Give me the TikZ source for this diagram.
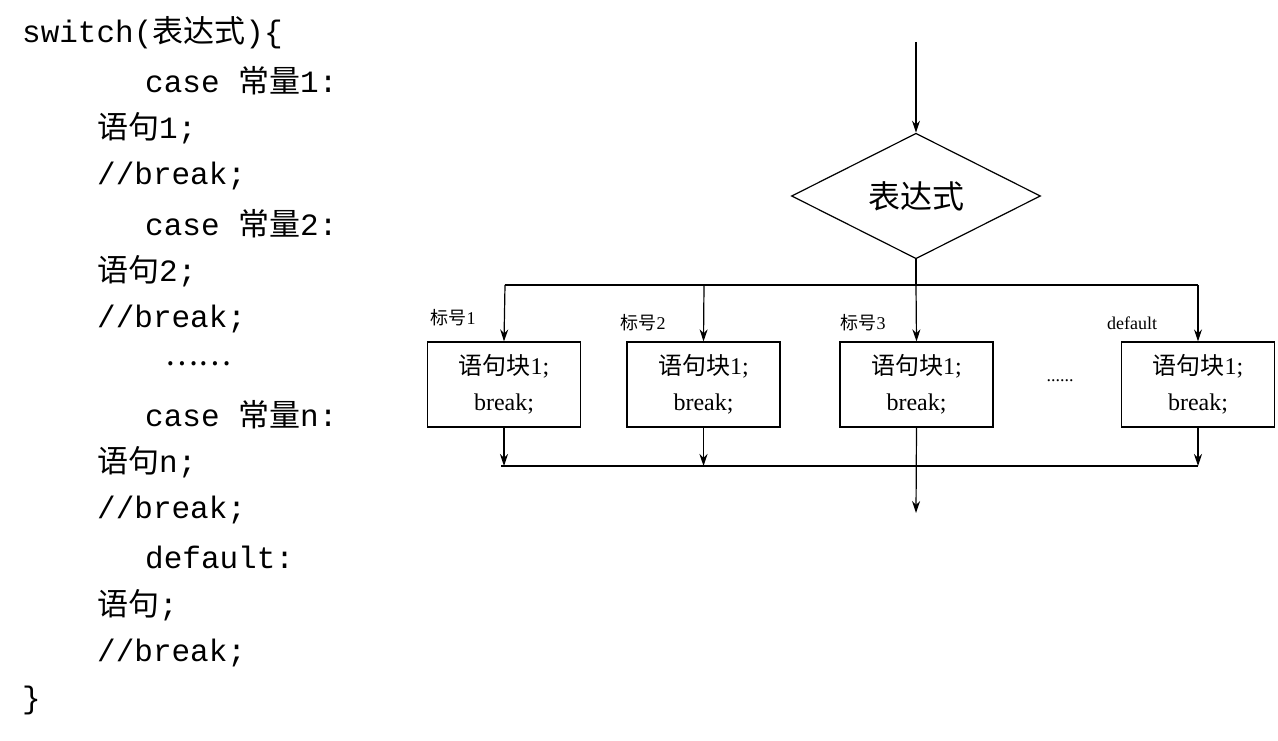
\documentclass[tikz,border=0pt]{standalone}
\usepackage{fontspec}
\setmainfont{Liberation Serif}
\setmonofont{Liberation Mono}
\newfontfamily\cjk{Noto Sans CJK SC}
\usetikzlibrary{shapes.geometric,arrows.meta}
\begin{document}
\begin{tikzpicture}[x=1pt,y=-1pt,
  code/.style={anchor=west,inner sep=0pt,font=\ttfamily\fontsize{31}{31}\selectfont},
  blk/.style={draw,line width=1.2pt,minimum width=153pt,minimum height=85pt,align=center,font=\fontsize{24}{36}\selectfont},
  lbl/.style={inner sep=0pt,font=\fontsize{18}{18}\selectfont},
  ln/.style={line width=1.2pt},
  arr/.style={line width=1.2pt,-{Stealth[length=12pt,width=8pt]}}]
\useasboundingbox (0,0) rectangle (1278,741);
\node[code] (l1) at (22,33) {switch({\cjk 表达式})\{};
\node[code] (l2) at (145,81) {case {\cjk 常量}1:};
\node[code] (l3) at (97,128) {{\cjk 语句}1;};
\node[code] (l4) at (97,176) {//break;};
\node[code] (l5) at (145,224) {case {\cjk 常量}2:};
\node[code] (l6) at (97,271) {{\cjk 语句}2;};
\node[code] (l7) at (97,319) {//break;};
\node[code] (l8) at (165,364) {{\cjk ……}};
\node[code] (l9) at (145,415) {case {\cjk 常量}n:};
\node[code] (l10) at (97,462) {{\cjk 语句}n;};
\node[code] (l11) at (97,510) {//break;};
\node[code] (l12) at (145,557) {default:};
\node[code] (l13) at (97,605) {{\cjk 语句};};
\node[code] (l14) at (97,653) {//break;};
\node[code] (l15) at (22,700) {\}};

\coordinate (top) at (916,42);
\node[draw,diamond,line width=1.2pt,minimum width=249pt,minimum height=117pt,inner sep=0pt,font=\cjk\fontsize{32}{32}\selectfont] (d) at (916,196) {表达式};
\draw[arr] (top) -- (d.north);
\node[blk] (b1) at (504,384.5) {{\cjk 语句块}1;\\break;};
\node[blk] (b2) at (703.5,384.5) {{\cjk 语句块}1;\\break;};
\node[blk] (b3) at (916.5,384.5) {{\cjk 语句块}1;\\break;};
\node[blk] (b4) at (1198,384.5) {{\cjk 语句块}1;\\break;};
\coordinate (j) at (916,285);
\coordinate (hl) at (505,285);
\coordinate (hr) at (1198,285);
\draw[ln] (d.south) -- (j);
\draw[ln] (hl) -- (hr);
\draw[arr] (hl) -- (b1.north);
\draw[arr] (704,285) -- (b2.north);
\draw[arr] (j) -- (b3.north);
\draw[arr] (hr) -- (b4.north);
\coordinate (ml) at (501,466);
\coordinate (mr) at (1198,466);
\coordinate (out) at (916,513);
\draw[ln] (ml) -- (mr);
\draw[arr] (b1.south) -- (504,466);
\draw[arr] (b2.south) -- (703.5,466);
\draw[arr] (b4.south) -- (mr);
\draw[arr] (b3.south) -- (out);
\node[lbl] (t1) at (453,318) {{\cjk 标号}1};
\node[lbl] (t2) at (643,323) {{\cjk 标号}2};
\node[lbl] (t3) at (863,323) {{\cjk 标号}3};
\node[lbl] (t4) at (1132,323) {default};
\node[lbl] (dots) at (1060,381) {......};
\end{tikzpicture}
\end{document}
